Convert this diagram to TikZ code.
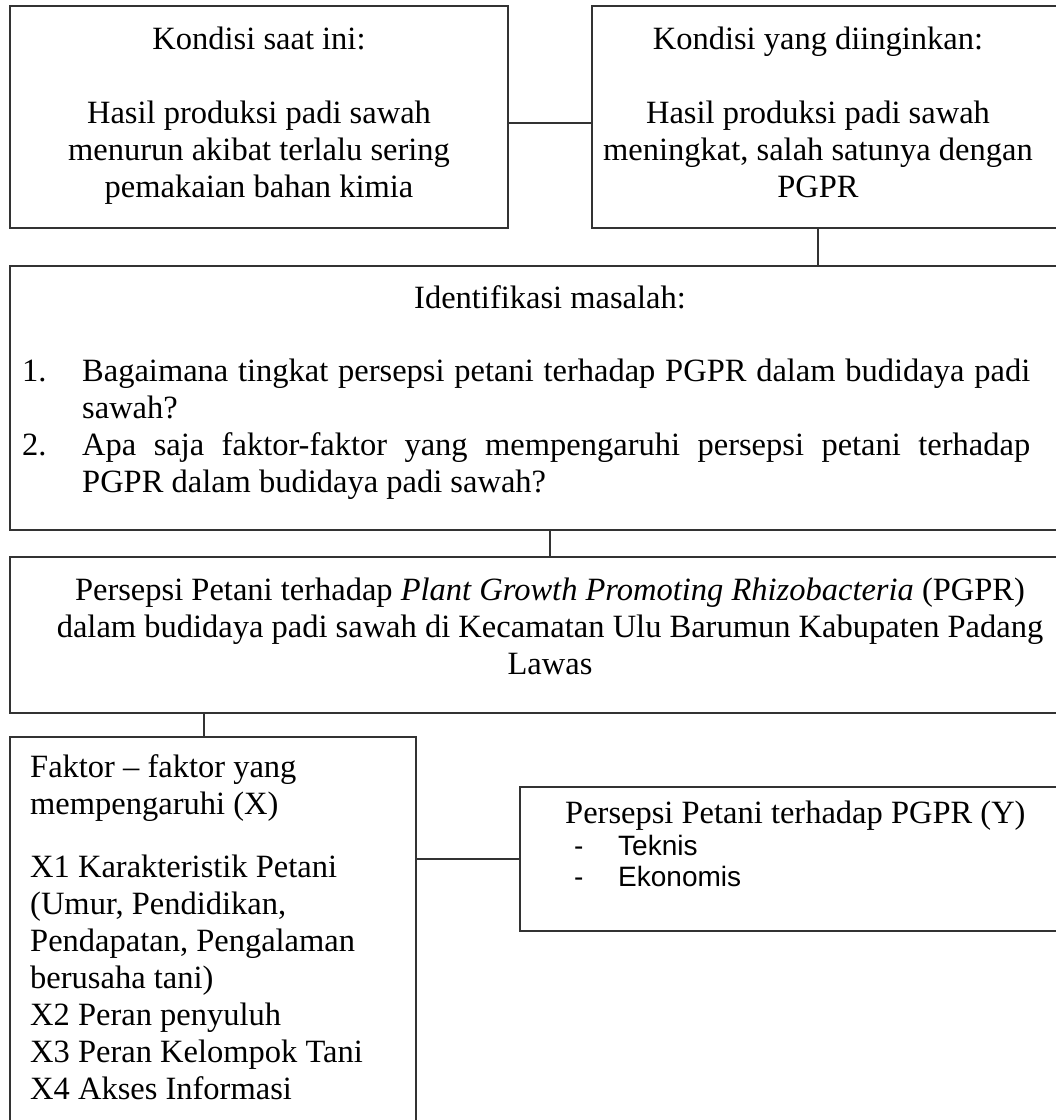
\documentclass[tikz,border=0pt]{standalone}
\usepackage{fontspec}
\setmainfont{Liberation Serif}
\newfontfamily\sansf{Liberation Sans}
\begin{document}
\begin{tikzpicture}[x=1pt,y=-1pt,
  box/.style={draw=black!80, line width=1.1pt, inner sep=0pt, outer sep=0pt, anchor=north west},
  txt/.style={inner sep=0pt, font=\fontsize{32.5}{37}\selectfont},
  sub/.style={inner sep=0pt, anchor=base west, font=\sansf\fontsize{28}{31}\selectfont},
  link/.style={draw=black!80, line width=1.1pt}]
\useasboundingbox (0,0) rectangle (1056,1120);
\clip (0,0) rectangle (1056,1120);
\fill[white] (0,0) rectangle (1056,1120);

% boxes
\node[box, minimum width=498pt, minimum height=222pt] (b1) at (10,6) {};
\node[box, minimum width=480pt, minimum height=222pt] (b2) at (592,6) {};
\node[box, minimum width=1060pt, minimum height=264pt] (b3) at (10,266) {};
\node[box, minimum width=1060pt, minimum height=156pt] (b4) at (10,557) {};
\node[box, minimum width=406pt, minimum height=400pt] (b5) at (10,737) {};
\node[box, minimum width=550pt, minimum height=144pt] (b6) at (520,787) {};

% texts (anchor=base of a multi-line node is the baseline of its last line)
\node[txt, anchor=base, align=center] (t1) at (259,197)
  {Kondisi saat ini:\\[37pt]Hasil produksi padi sawah\\menurun akibat terlalu sering\\pemakaian bahan kimia};
\node[txt, anchor=base, align=center] (t2) at (818,197)
  {Kondisi yang diinginkan:\\[37pt]Hasil produksi padi sawah\\meningkat, salah satunya dengan\\PGPR};
\node[txt, anchor=base] (t3) at (550,308) {Identifikasi masalah:};
\node[inner sep=0pt, anchor=base west] (t3l) at (22,381)
  {\parbox[t]{1008pt}{\fontsize{32.5}{37}\selectfont\setlength\parindent{0pt}%
   \hangindent=60pt\hangafter=1 \makebox[60pt][l]{1.}Bagaimana tingkat persepsi petani terhadap PGPR dalam budidaya padi\linebreak sawah?\par
   \hangindent=60pt\hangafter=1 \makebox[60pt][l]{2.}Apa saja faktor-faktor yang mempengaruhi persepsi petani terhadap\linebreak PGPR dalam budidaya padi sawah?\par}};
\node[txt, anchor=base, align=center] (t4) at (550,674)
  {Persepsi Petani terhadap \textit{Plant Growth Promoting Rhizobacteria} (PGPR)\\dalam budidaya padi sawah di Kecamatan Ulu Barumun Kabupaten Padang\\Lawas};
\node[txt, anchor=base west, align=left] (t5) at (30,1099)
  {Faktor – faktor yang\\mempengaruhi (X)\\[26pt]X1 Karakteristik Petani\\(Umur, Pendidikan,\\Pendapatan, Pengalaman\\berusaha tani)\\X2 Peran penyuluh\\X3 Peran Kelompok Tani\\X4 Akses Informasi};
\node[txt, anchor=base west] (t6) at (565,823) {Persepsi Petani terhadap PGPR (Y)};
\node[sub] (d1) at (574,855) {-};
\node[sub] (s1) at (618,855) {Teknis};
\node[sub] (d2) at (574,886) {-};
\node[sub] (s2) at (618,886) {Ekonomis};

% connectors
\draw[link] ([yshift=-6pt]b1.east) -- ([yshift=-6pt]b2.west);
\draw[link] (t2 |- b2.south) -- (t2 |- b3.north);
\draw[link] (t3 |- b3.south) -- (t3 |- b4.north);
\draw[link] ([xshift=-9pt]b5.north) -- ([xshift=-9pt]b5.north |- b4.south);
\draw[link] (b5.east |- b6.west) -- (b6.west);
\end{tikzpicture}
\end{document}
